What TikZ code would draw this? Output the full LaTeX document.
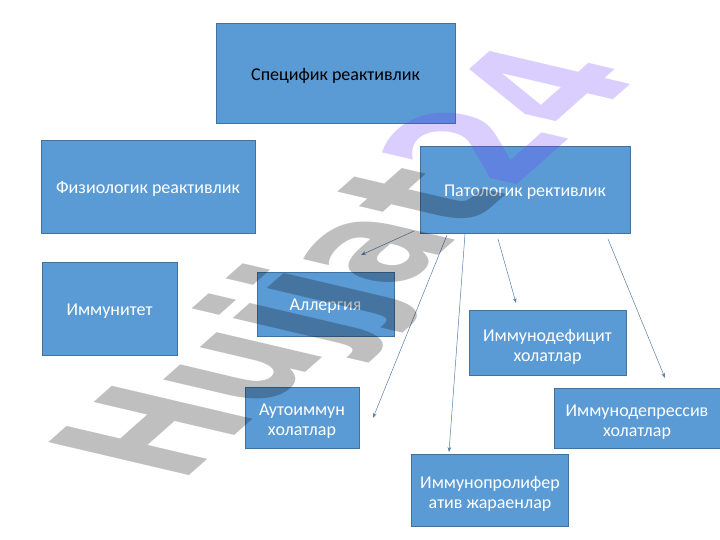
\documentclass[tikz,border=0pt]{standalone}
\usepackage{fontspec}
\setmainfont{Carlito}
\newfontfamily\wmfont{DejaVu Sans}
\usetikzlibrary{arrows.meta,calc}
\definecolor{boxfill}{HTML}{5B9BD5}
\definecolor{boxline}{HTML}{41719C}
\definecolor{arrowc}{HTML}{5A7FA8}
\definecolor{wmpurple}{RGB}{110,60,255}
\tikzset{
  box/.style={draw=boxline, fill=boxfill, line width=0.75pt},
  boxtext/.style={align=center, text=white, inner sep=0pt,
    font=\fontsize{18}{20}\selectfont},
  one/.style={boxtext, yshift=-2.5pt},
  two/.style={boxtext, yshift=-4pt},
  conn/.style={-{Stealth[length=5pt,width=3.6pt]}, draw=arrowc, line width=0.5pt},
  wmark/.style={anchor=base west, inner sep=0pt, text=black, text opacity=0.25,
    font=\wmfont\bfseries\fontsize{100}{100}\selectfont}
}
\begin{document}
\begin{tikzpicture}[x=1pt,y=-1pt]
\useasboundingbox[fill=white] (0,0) rectangle (720,540);
% boxes
\node[box, minimum width=239pt, minimum height=100pt, label={[one,text=black]center:Специфик реактивлик}] (spec) at (335.5,73) {};
\node[box, minimum width=214pt, minimum height=93pt, label={[one]center:Физиологик реактивлик}] (fiz) at (148,186.5) {};
\node[box, minimum width=210pt, minimum height=87pt, label={[one]center:Патологик рективлик}] (pat) at (525,189.5) {};
\node[box, minimum width=135pt, minimum height=93pt, label={[one]center:Иммунитет}] (imm) at (109.5,308.5) {};
\node[box, minimum width=137pt, minimum height=64pt, label={[one]center:Аллергия}] (all) at (325.5,304) {};
\node[box, minimum width=157pt, minimum height=65pt, label={[two]center:{Иммунодефицит\\холатлар}}] (def) at (547.5,342.5) {};
\node[box, minimum width=114pt, minimum height=61pt, label={[two]center:{Аутоиммун\\холатлар}}] (aut) at (302,417.5) {};
\node[box, minimum width=166pt, minimum height=60pt, label={[two]center:{Иммунодепрессив\\холатлар}}] (dep) at (637,418) {};
\node[box, minimum width=157pt, minimum height=72pt, label={[two]center:{Иммунопролифер\\атив жараенлар}}] (pro) at (490,490) {};
% connector ends
\coordinate (s1) at (414,231); \coordinate (e1) at (361,255);
\coordinate (s2) at (447,235); \coordinate (e2) at (373,418);
\coordinate (s3) at (465,234); \coordinate (e3) at (449,452);
\coordinate (s4) at (498,239); \coordinate (e4) at (516,303);
\coordinate (s5) at (608,239); \coordinate (e5) at (665,378);
\draw[conn] (s1) -- (e1);
\draw[conn] (s2) -- (e2);
\draw[conn] (s3) -- (e3);
\draw[conn] (s4) -- (e4);
\draw[conn] (s5) -- (e5);
% watermark
\begin{scope}[shift={(180,484)}, cm={0.973,0.862,-1.93,0.453,(0,0)}, transform shape]
\node[wmark] (wm) at (0,0) {Hujjat\textcolor{wmpurple}{24}};
\end{scope}
\end{tikzpicture}
\end{document}
